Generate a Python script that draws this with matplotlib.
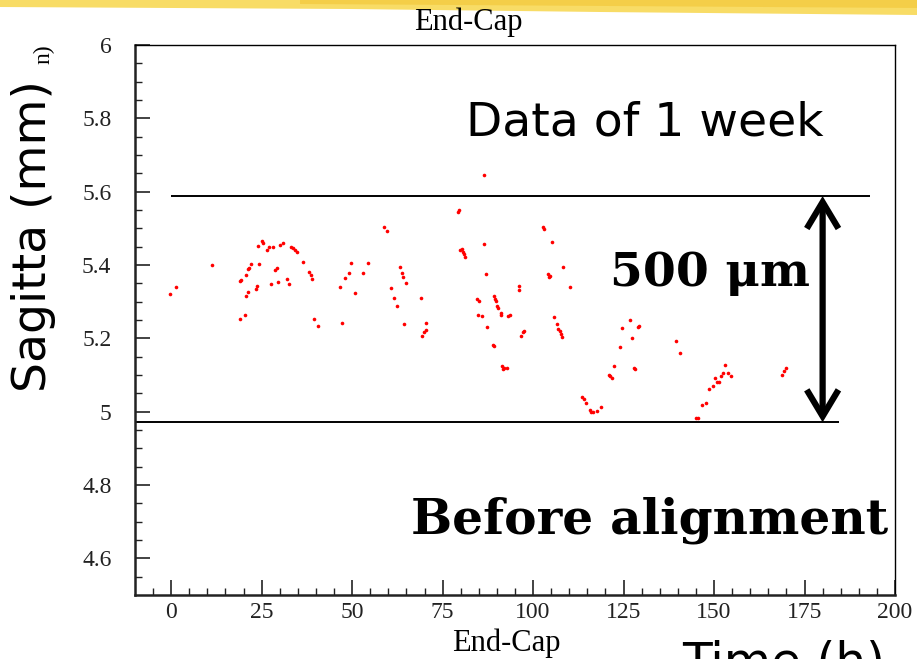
import numpy as np
import matplotlib
matplotlib.use("Agg")
from matplotlib import pyplot as plt
from matplotlib.patches import Polygon

# ---- data ----
time_h = [-0.2, 1.3, 11.3, 18.9, 20.3, 20.8, 21.1, 19.1, 19.4, 20.6, 21.2, 21.5, 22.0,
          23.5, 23.8, 24.4, 24.0, 25.1, 25.5, 26.6, 26.9, 28.1, 27.6, 28.7, 29.1, 29.6,
          30.1, 30.8, 32.0, 32.6, 33.1, 33.6, 34.1, 34.8, 36.3, 38.0, 38.5, 38.9, 39.4, 40.7,
          47.2, 46.7, 48.1, 49.1, 49.8, 50.7, 53.1, 54.3, 58.9, 59.7, 60.6, 61.7, 62.4,
          63.1, 63.7, 64.1, 64.9, 64.4, 69.1, 69.4, 69.8, 70.3, 70.5,
          79.3, 79.6, 79.9, 80.3, 80.6, 80.9, 81.2, 84.4, 85.1, 84.9, 86.0, 86.4, 86.5,
          86.9, 87.3, 88.9, 89.2, 89.3, 89.5, 89.7, 90.0, 90.4, 91.0, 91.2, 93.1, 93.5,
          91.4, 91.7, 92.0, 92.7, 96.0, 96.2, 96.7, 97.1, 97.4, 102.8, 103.1, 105.2, 108.3,
          110.2, 104.0, 104.3, 104.7, 105.9, 106.6, 107.0, 107.3, 107.7, 108.0,
          113.5, 114.0, 114.5, 115.6, 116.1, 116.6, 117.6, 118.8, 120.9, 121.2, 121.7,
          122.4, 124.0, 124.5, 126.8, 128.9, 129.2, 127.3, 127.9, 128.2, 139.4, 140.6,
          145.0, 145.7, 146.7, 147.9, 148.6, 149.7, 150.2, 150.8, 151.3, 151.9, 152.5,
          153.1, 153.9, 154.8, 168.8, 169.3, 170.0]
sagitta_mm = [5.320, 5.340, 5.400, 5.253, 5.264, 5.315, 5.327, 5.357, 5.360, 5.374, 5.388, 5.393, 5.404,
              5.334, 5.342, 5.404, 5.451, 5.465, 5.461, 5.441, 5.449, 5.448, 5.347, 5.386, 5.392, 5.353,
              5.455, 5.459, 5.361, 5.347, 5.450, 5.446, 5.441, 5.436, 5.409, 5.381, 5.372, 5.362, 5.254, 5.235,
              5.241, 5.340, 5.364, 5.379, 5.406, 5.324, 5.377, 5.406, 5.503, 5.493, 5.338, 5.309, 5.289,
              5.395, 5.379, 5.368, 5.351, 5.238, 5.309, 5.207, 5.216, 5.222, 5.241,
              5.544, 5.550, 5.441, 5.443, 5.436, 5.430, 5.422, 5.308, 5.301, 5.263, 5.261, 5.457, 5.646,
              5.375, 5.231, 5.183, 5.178, 5.315, 5.308, 5.301, 5.288, 5.284, 5.268, 5.263, 5.261, 5.264,
              5.124, 5.117, 5.120, 5.120, 5.342, 5.332, 5.206, 5.218, 5.221, 5.503, 5.497, 5.463, 5.395,
              5.339, 5.376, 5.368, 5.370, 5.259, 5.238, 5.226, 5.219, 5.212, 5.204,
              5.039, 5.034, 5.025, 5.004, 5.000, 5.000, 5.001, 5.013, 5.101, 5.096, 5.091,
              5.125, 5.176, 5.229, 5.249, 5.231, 5.235, 5.201, 5.120, 5.116, 5.192, 5.160,
              4.982, 4.984, 5.019, 5.024, 5.061, 5.071, 5.091, 5.082, 5.080, 5.097, 5.106,
              5.128, 5.105, 5.097, 5.100, 5.110, 5.118]

band_hi = 5.588
band_lo = 4.971
band_hi_span = [0, 193]
band_lo_span = [-10, 184.5]
arrow_t = 180

x_ticks = [0, 25, 50, 75, 100, 125, 150, 175, 200]
y_ticks = [4.6, 4.8, 5.0, 5.2, 5.4, 5.6, 5.8, 6.0]
y_tick_labels = ["4.6", "4.8", "5", "5.2", "5.4", "5.6", "5.8", "6"]

W, H = 917, 659
fig = plt.figure(figsize=(W / 100, H / 100), dpi=100)
ax = fig.add_axes([135 / W, 1 - 595 / H, 760 / W, 550 / H])


def fx(px):
    return px / W


def fy(py):
    return 1 - py / H


# yellow brush stroke at the top of the slide
fig.patches.append(Polygon([[0, 1], [0, fy(7)], [fx(350), fy(9)], [fx(600), fy(12)],
                            [1, fy(15)], [1, 1]], closed=True, transform=fig.transFigure,
                           facecolor="#f8dc66", edgecolor="none", zorder=0))
fig.patches.append(Polygon([[fx(300), 1], [fx(300), fy(4)], [1, fy(8)], [1, 1]], closed=True,
                           transform=fig.transFigure, facecolor="#f3c93c", edgecolor="none",
                           zorder=0, alpha=0.7))

ax.plot(time_h, sagitta_mm, "o", color="red", ms=2.6, mec="none")

ax.hlines(band_hi, band_hi_span[0], band_hi_span[1], color="black", lw=1.4)
ax.hlines(band_lo, band_lo_span[0], band_lo_span[1], color="black", lw=1.4)
ax.annotate("", xy=(arrow_t, band_hi), xytext=(arrow_t, band_lo),
            arrowprops=dict(arrowstyle="<->,head_length=0.5,head_width=0.3", lw=4.5,
                            color="black", mutation_scale=38, shrinkA=0, shrinkB=0,
                            joinstyle="miter", capstyle="butt"))

ax.set_xlim(-10, 200)
ax.set_ylim(4.5, 6.0)
ax.set_xticks(x_ticks)
ax.set_xticks(np.arange(-5, 201, 5), minor=True)
ax.set_yticks(y_ticks)
ax.set_yticklabels(y_tick_labels)
ax.set_yticks(np.arange(4.55, 6.0, 0.05), minor=True)
ax.tick_params(which="both", direction="in", top=False, right=False,
               labelsize=17, colors="#222222")
ax.tick_params(which="major", length=11, width=1.2)
ax.tick_params(which="minor", length=5, width=1.0)
ax.tick_params(axis="y", pad=17)
ax.tick_params(axis="x", pad=5)
for lab in ax.get_xticklabels() + ax.get_yticklabels():
    lab.set_family("Liberation Serif")
for s in ["left", "bottom"]:
    ax.spines[s].set_linewidth(1.8)
    ax.spines[s].set_color("#222222")
for s in ["top", "right"]:
    ax.spines[s].set_linewidth(1.0)

# text on the slide
fig.text(fx(468), fy(22), "End-Cap", family="Liberation Serif", fontsize=22,
         ha="center", va="center")
fig.text(fx(506), fy(643), "End-Cap", family="Liberation Serif", fontsize=22,
         ha="center", va="center")
fig.text(fx(645), fy(136), "Data of 1 week", family="DejaVu Sans", fontsize=34,
         ha="center", va="baseline")
fig.text(fx(710), fy(286), "500 \u03bcm", family="DejaVu Serif", weight="bold",
         fontsize=34, ha="center", va="baseline")
fig.text(fx(650), fy(533), "Before alignment", family="DejaVu Serif", weight="bold",
         fontsize=35, ha="center", va="baseline")
fig.text(fx(34), fy(236), "Sagitta (mm)", family="DejaVu Sans", fontsize=34,
         rotation=90, ha="center", va="center")
fig.text(fx(44), fy(54), "n)", family="Liberation Serif", fontsize=17,
         rotation=90, ha="center", va="center")
fig.text(fx(784), fy(640), "Time (h)", family="DejaVu Sans", fontsize=35,
         ha="center", va="top")

fig.savefig("out.png", dpi=100)
